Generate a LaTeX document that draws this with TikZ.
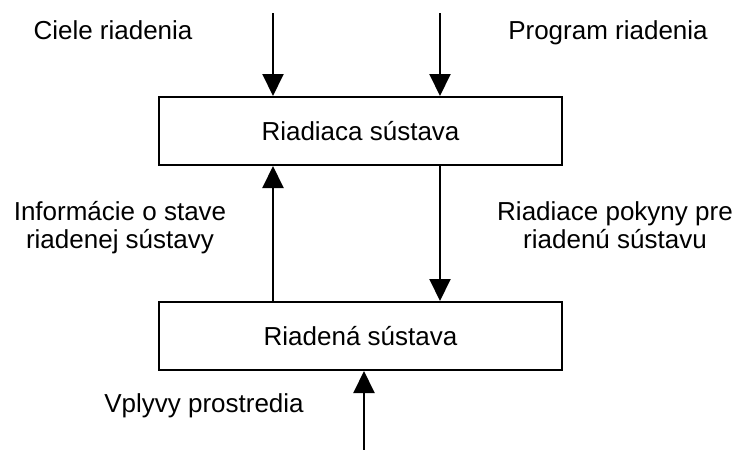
\documentclass[tikz,border=0pt]{standalone}
\usepackage{fontspec}
\setmainfont{Liberation Sans}
\usetikzlibrary{arrows.meta}
\begin{document}
\begin{tikzpicture}[x=1pt,y=-1pt,
  block/.style={draw, line width=2pt, minimum width=403pt, minimum height=68pt,
    inner sep=0pt, font=\fontsize{26}{28}\selectfont},
  lbl/.style={font=\fontsize{26}{28}\selectfont, inner sep=0pt, align=center, anchor=base},
  flow/.style={line width=2pt, -{Triangle[width=21pt,length=22pt]}}]
\useasboundingbox (0,0) rectangle (737,450);

% the two systems
\node[block] (ctrl)  at (360.5,131) {Riadiaca sústava};
\node[block] (plant) at (360.5,336) {Riadená sústava};

% free ends of the input arrows
\coordinate (goalin) at (273,13);
\coordinate (progin) at (440,13);
\coordinate (envin)  at (364,450);

% labels (two-line ones are placed by the baseline of their last line)
\node[lbl] (goal) at (113,39)  {Ciele riadenia};
\node[lbl] (prog) at (608,39)  {Program riadenia};
\node[lbl] (info) at (120,248) {Informácie o stave\\riadenej sústavy};
\node[lbl] (cmd)  at (615,248) {Riadiace pokyny pre\\riadenú sústavu};
\node[lbl] (env)  at (204,412) {Vplyvy prostredia};

% connectors
\draw[flow] (goalin) -- (goalin |- ctrl.north);
\draw[flow] (progin) -- (progin |- ctrl.north);
\draw[flow] (plant.north -| goalin) -- (ctrl.south -| goalin);
\draw[flow] (ctrl.south -| progin) -- (plant.north -| progin);
\draw[flow] (envin) -- (envin |- plant.south);
\end{tikzpicture}
\end{document}
